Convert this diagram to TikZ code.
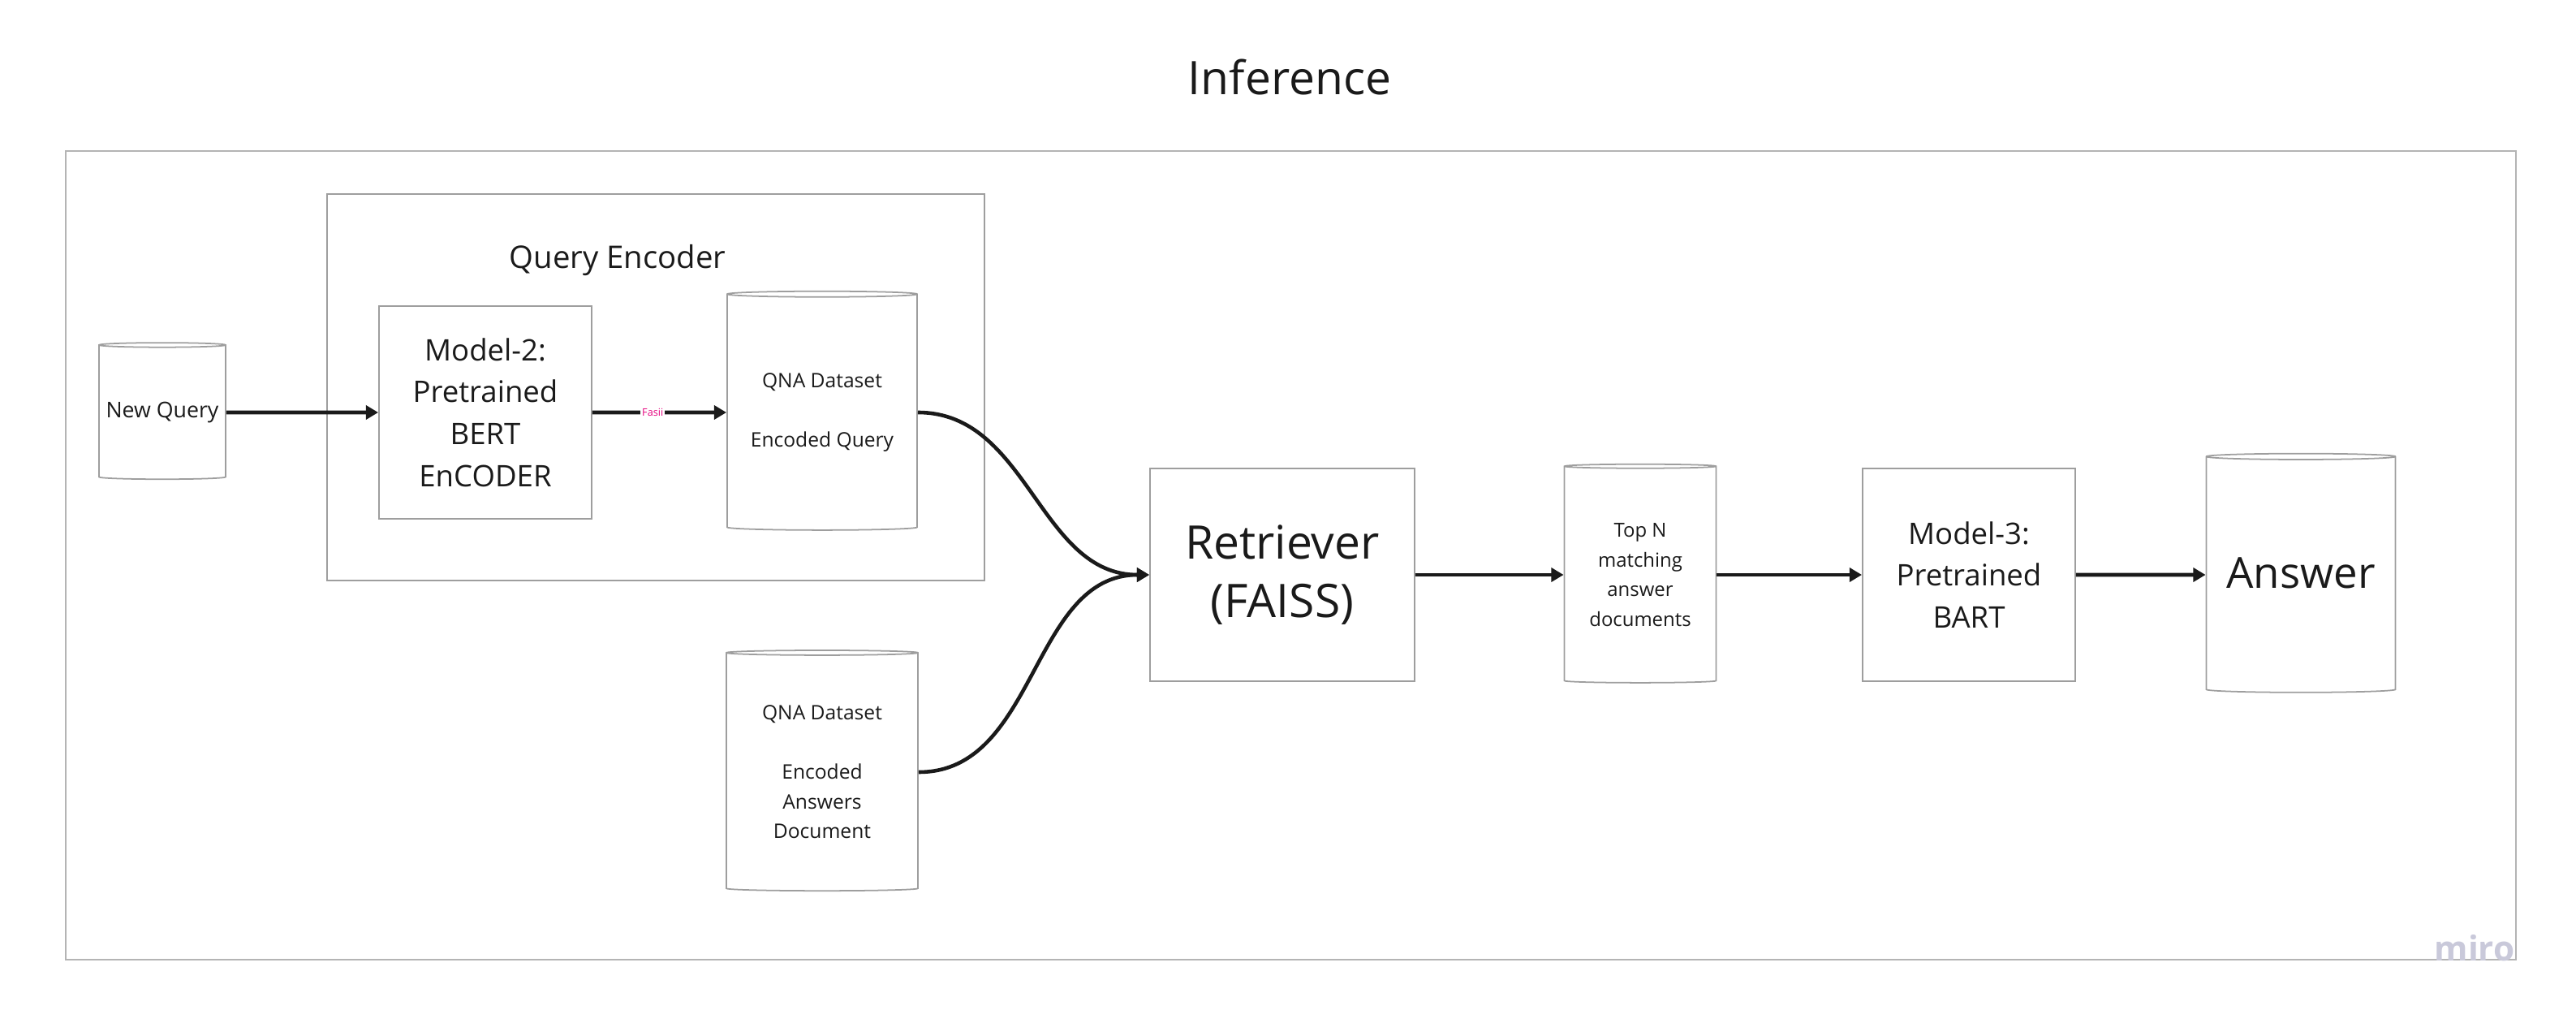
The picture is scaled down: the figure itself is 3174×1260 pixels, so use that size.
\documentclass[tikz,border=0pt]{standalone}
\usepackage{fontspec}
\setmainfont{Open Sans}
\usetikzlibrary{positioning}
\usetikzlibrary{shapes.geometric}
\usetikzlibrary{arrows.meta}
\usepackage{xcolor}
\definecolor{ink}{HTML}{1A1A1A}
\definecolor{edgegray}{HTML}{9E9E9E}
\definecolor{framegray}{HTML}{B4B4B4}
\definecolor{fasiipink}{HTML}{E6007E}
\definecolor{mirogray}{HTML}{C9C9DA}

\tikzset{
 blockbox/.style={draw=edgegray, line width=0.5pt, text=ink, align=center, inner sep=0pt},
 store/.style={cylinder, shape border rotate=90, aspect=0.04, draw=edgegray, line width=0.5pt, text=ink, align=center, inner sep=0pt},
 flow/.style={-{Triangle[length=4.3pt,width=4.8pt]}, line width=1.3pt, draw=ink},
}

\begin{document}
\begin{tikzpicture}[x=0.01cm, y=-0.01cm]
\useasboundingbox (0,0) rectangle (3174,1260);

% frames
\draw[framegray, line width=0.5pt] (81,186) rectangle (3100,1182);
\draw[edgegray, line width=0.5pt] (403,239) rectangle (1213,715);

\node[anchor=base, text=ink, font=\fontsize{16.2}{20}\selectfont] (title) at (1589,116) {Inference};
\node[anchor=base, text=ink, font=\fontsize{10.9}{14}\selectfont] (qelabel) at (761,330) {Query Encoder};

% query side
\node[store, minimum width=1.56cm, minimum height=1.68cm, font=\fontsize{7.6}{10}\selectfont] (newq) at (200,508) {New Query};
\node[blockbox, minimum width=2.62cm, minimum height=2.62cm, font=\fontsize{10.4}{14.7}\selectfont] (model2) at (598,508) {Model-2:\\Pretrained\\BERT\\EnCODER};
\node[store, minimum width=2.34cm, minimum height=2.94cm, font=\fontsize{7}{10.4}\selectfont] (qnaq) at (1013,508) {QNA Dataset\\[10.4pt]Encoded Query};
\node[store, minimum width=2.36cm, minimum height=2.96cm, font=\fontsize{7}{10.4}\selectfont] (qnaa) at (1013,951) {QNA Dataset\\[10.4pt]Encoded\\Answers\\Document};

% retrieval side
\node[blockbox, minimum width=3.26cm, minimum height=2.62cm, font=\fontsize{16.2}{20.5}\selectfont] (retr) at (1580,708) {Retriever\\(FAISS)};
\node[store, minimum width=1.87cm, minimum height=2.69cm, font=\fontsize{6.8}{10.4}\selectfont] (topn) at (2021,708) {Top N\\matching\\answer\\documents};
\node[blockbox, minimum width=2.62cm, minimum height=2.62cm, font=\fontsize{10.4}{14.7}\selectfont] (model3) at (2426,708) {Model-3:\\Pretrained\\BART};
\node[store, minimum width=2.33cm, minimum height=2.94cm, font=\fontsize{15}{18}\selectfont] (answer) at (2835,708) {\raisebox{1.2pt}{Answer}};

% connectors
\draw[flow] (newq.east) -- (model2.west);
\draw[flow] (model2.east) -- node[pos=0.45, fill=white, inner sep=0.6pt, text=fasiipink, font=\fontsize{3.6}{4}\selectfont] (fasii) {Fasii} (qnaq.west);
\draw[flow] (qnaq.east) to[out=0, in=180] (retr.west);
\draw[flow] (qnaa.east) to[out=0, in=180] (retr.west);
\draw[flow] (retr.east) -- (topn.west);
\draw[flow] (topn.east) -- (model3.west);
\draw[flow] (model3.east) -- (answer.west);

\node[anchor=base east, inner sep=0pt, text=mirogray, font=\fontsize{12}{12}\selectfont\bfseries] (miro) at (3099,1183) {miro};

\end{tikzpicture}
\end{document}
